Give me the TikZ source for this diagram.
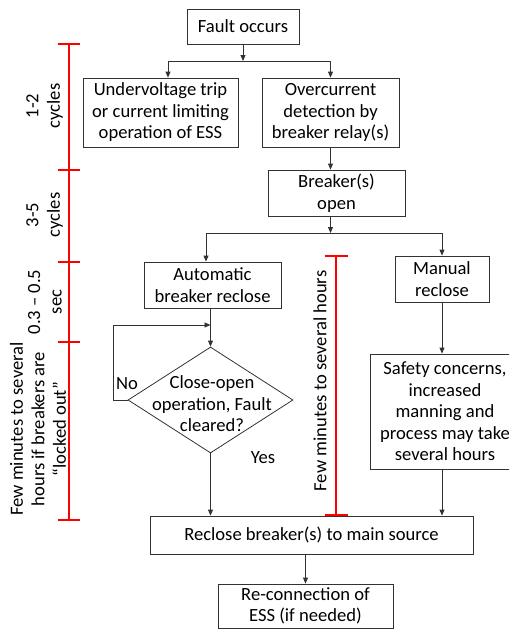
\documentclass[tikz,border=0pt]{standalone}
\usepackage{fontspec}
\setmainfont{Carlito}
\usetikzlibrary{arrows.meta,shapes.geometric}
\definecolor{lc}{RGB}{50,50,50}
\begin{document}
\begin{tikzpicture}[x=1pt,y=-1pt,
  font=\fontsize{18.6}{21.5}\selectfont,
  box/.style={draw=lc, line width=0.8pt, rectangle, inner sep=0pt, align=center},
  arr/.style={draw=lc, line width=0.8pt, -{Triangle[length=6pt,width=5pt]}},
  ln/.style={draw=lc, line width=0.8pt},
  rl/.style={draw=red, line width=1.6pt},
  lbl/.style={inner sep=0pt, align=center},
]
\useasboundingbox (0,0) rectangle (509,629);
\clip (0,0) rectangle (509,629);

\node[box, minimum width=112, minimum height=35] (fault) at (243,26.5) {Fault occurs};
\node[box, minimum width=155, minimum height=69] (uv) at (160.5,112.5) {Undervoltage trip\\or current limiting\\operation of ESS};
\node[box, minimum width=137, minimum height=69] (oc) at (330.5,112.5) {Overcurrent\\detection by\\breaker relay(s)};
\node[box, minimum width=137, minimum height=46] (brk) at (336.5,193) {Breaker(s)\\open};
\node[box, minimum width=137, minimum height=46] (auto) at (212.5,285) {Automatic\\breaker reclose};
\node[box, minimum width=94, minimum height=46] (man) at (442,279) {Manual\\reclose};
\node[draw=lc, line width=0.8pt, diamond, minimum width=165, minimum height=106, inner sep=0pt] (dec) at (210.5,400) {};
\node[lbl] (dect) at (212,404) {Close-open\\operation, Fault\\cleared?};
\node[box, minimum width=150, minimum height=115] (safe) at (445,411.5) {Safety concerns,\\increased\\manning and\\process may take\\several hours};
\node[box, minimum width=323, minimum height=38] (rec) at (311.5,535) {Reclose breaker(s) to main source};
\node[box, minimum width=175, minimum height=44] (rc) at (305.5,606) {Re-connection of\\ESS (if needed)};

\coordinate (ja) at (168,61);
\coordinate (jb) at (330.5,61);
\draw[arr] (fault.south) -- (fault.south |- ja);
\draw[ln] (ja) -- (jb);
\draw[arr] (ja) -- (ja |- uv.north);
\draw[arr] (jb) -- (jb |- oc.north);
\draw[arr] (oc.south) -- (oc.south |- brk.north);
\coordinate (j2a) at (206,233);
\coordinate (j2b) at (442,233);
\draw[arr] (oc.south |- brk.south) -- (oc.south |- j2a);
\draw[ln] (j2a) -- (j2b);
\draw[arr] (j2a) -- (j2a |- auto.north);
\draw[arr] (j2b) -- (man.north);
\coordinate (lp) at (210.5,325);
\coordinate (lpl) at (113,325);
\draw[arr] (dec.north |- auto.south) -- (dec.north);
\draw[arr] (dec.west) -- (lpl |- dec.west) -- (lpl) -- (lp);
\draw[arr] (dec.south) -- (dec.south |- rec.north);
\draw[arr] (man.south) -- (man.south |- safe.north);
\draw[arr] (man.south |- safe.south) -- (man.south |- rec.north);
\draw[arr] (rc.north |- rec.south) -- (rc.north);

\node[lbl] (no) at (127,384) {No};
\node[lbl] (yes) at (263,458) {Yes};

\coordinate (t0) at (69,44);
\coordinate (t1) at (69,170);
\coordinate (t2) at (69,262);
\coordinate (t3) at (69,342);
\coordinate (t4) at (69,520);
\draw[rl] (t0) -- (t4);
\foreach \t in {t0,t1,t2,t3,t4}{
  \draw[rl] ([xshift=-11pt]\t) -- ([xshift=11pt]\t);
}
\coordinate (m0) at (336,256);
\coordinate (m1) at (336,515);
\draw[rl] (m0) -- (m1);
\foreach \t in {m0,m1}{
  \draw[rl] ([xshift=-11.5pt]\t) -- ([xshift=11.5pt]\t);
}

\node[lbl, rotate=90] (l1) at (44.5,106) {1-2\\cycles};
\node[lbl, rotate=90] (l2) at (44.5,215) {3-5\\cycles};
\node[lbl, rotate=90] (l3) at (45,302) {0.3 – 0.5\\sec};
\node[lbl, rotate=90] (l4) at (38,429) {Few minutes to several\\hours if breakers are\\“locked out”};
\node[lbl, rotate=90] (l5) at (320,381) {Few minutes to several hours};
\end{tikzpicture}
\end{document}
